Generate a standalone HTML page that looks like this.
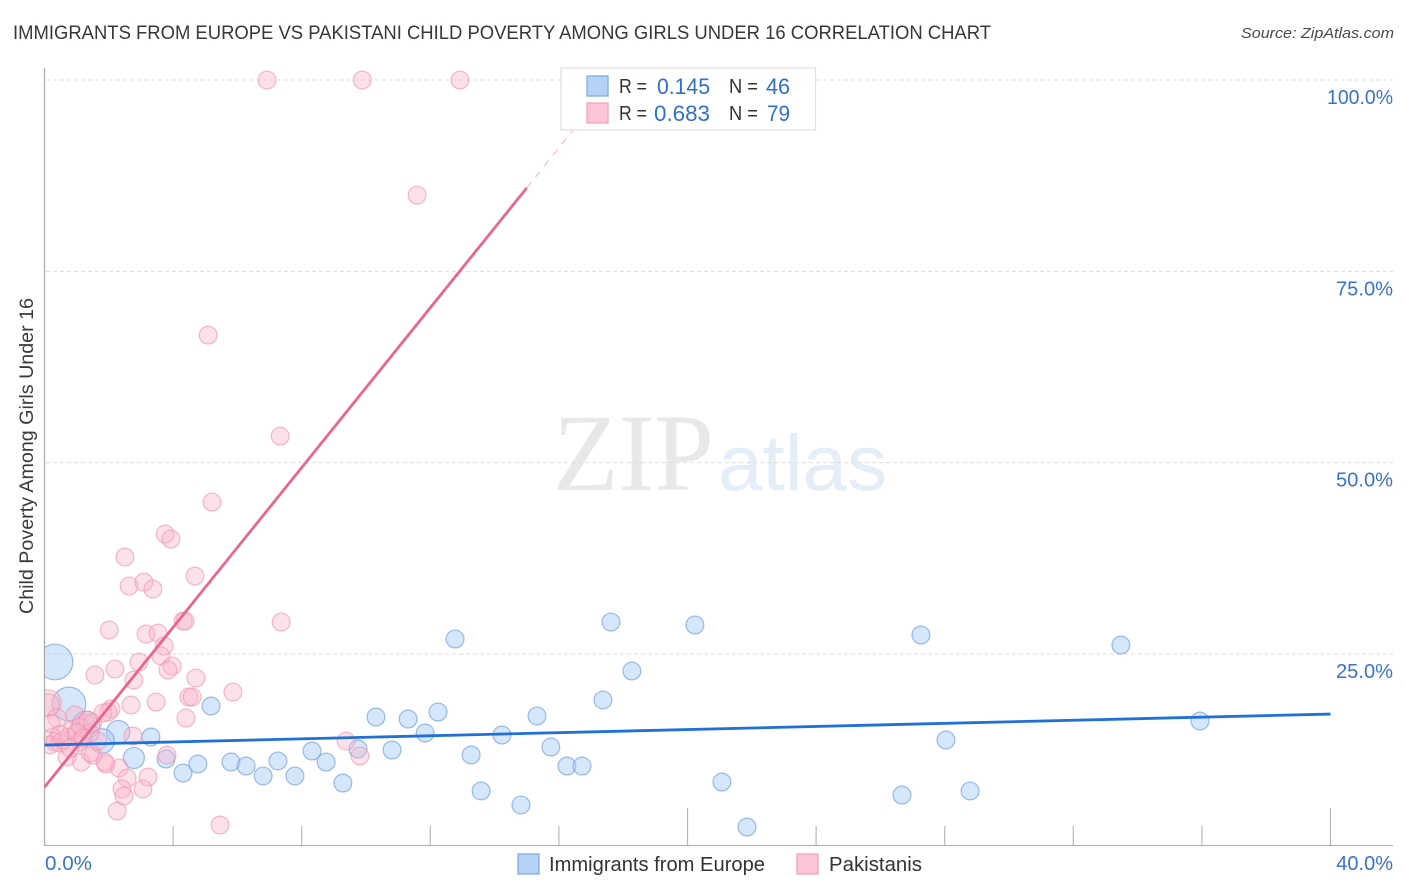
<!DOCTYPE html>
<html lang="en">
<head>
<meta charset="utf-8">
<title>Immigrants from Europe vs Pakistani Child Poverty Correlation Chart</title>
<style>
html,body{margin:0;padding:0;background:#fff;}
svg{display:block;font-family:"Liberation Sans",sans-serif;}
</style>
</head>
<body>
<svg id="chart" xmlns="http://www.w3.org/2000/svg" width="1406" height="892" viewBox="0 0 1406 892">
  <defs>
    <clipPath id="plot-clip"><rect x="45" y="60" width="1350" height="786"/></clipPath>
  </defs>
  <rect x="0" y="0" width="1406" height="892" fill="#ffffff"/>
  <text x="13" y="39" font-size="19.5" fill="#34383c" textLength="978" lengthAdjust="spacingAndGlyphs">IMMIGRANTS FROM EUROPE VS PAKISTANI CHILD POVERTY AMONG GIRLS UNDER 16 CORRELATION CHART</text>
  <text x="1394" y="38" font-size="15" font-style="italic" fill="#4a4a4a" text-anchor="end" textLength="153" lengthAdjust="spacingAndGlyphs">Source: ZipAtlas.com</text>
  <text x="553" y="490" font-size="110" font-family="'Liberation Serif',serif" fill="#e8e8e8" textLength="161" lengthAdjust="spacingAndGlyphs">ZIP</text>
  <text x="718" y="490" font-size="79" fill="#e5edf8" textLength="169" lengthAdjust="spacingAndGlyphs">atlas</text>
  <g id="grid"></g>
  <g id="axes"></g>
  <g id="europe-points" clip-path="url(#plot-clip)"></g>
  <g id="pakistani-points" clip-path="url(#plot-clip)"></g>
  <g id="trends"></g>
  <g id="ticklabels"></g>
  <text transform="translate(33,614) rotate(-90)" x="0" y="0" font-size="19" fill="#3a3a3a" textLength="316" lengthAdjust="spacingAndGlyphs">Child Poverty Among Girls Under 16</text>

  <g>
    <rect x="561" y="68" width="254.5" height="62" fill="#ffffff" fill-opacity="0.93" stroke="#dfdfdf" stroke-width="1.2"/>
    <rect x="587" y="76" width="21" height="20" fill="#b5d2f6" stroke="#83ace0" stroke-width="1.3"/>
    <rect x="587" y="103" width="21" height="20" fill="#fcc5d6" stroke="#f2a3bb" stroke-width="1.3"/>
    <text x="619" y="93" font-size="20" fill="#333333" textLength="28" lengthAdjust="spacingAndGlyphs">R =</text>
    <text x="657" y="94" font-size="22" fill="#2f6fd0" textLength="53" lengthAdjust="spacingAndGlyphs">0.145</text>
    <text x="729" y="93" font-size="20" fill="#333333" textLength="29" lengthAdjust="spacingAndGlyphs">N =</text>
    <text x="766" y="94" font-size="22" fill="#2f6fd0" textLength="24" lengthAdjust="spacingAndGlyphs">46</text>
    <text x="619" y="120" font-size="20" fill="#333333" textLength="28" lengthAdjust="spacingAndGlyphs">R =</text>
    <text x="654" y="121" font-size="22" fill="#2f6fd0" textLength="56" lengthAdjust="spacingAndGlyphs">0.683</text>
    <text x="729" y="120" font-size="20" fill="#333333" textLength="29" lengthAdjust="spacingAndGlyphs">N =</text>
    <text x="767" y="121" font-size="22" fill="#2f6fd0" textLength="23" lengthAdjust="spacingAndGlyphs">79</text>
  </g>

  <g>
    <rect x="518" y="854" width="21" height="20" fill="#b5d2f6" stroke="#83ace0" stroke-width="1.3"/>
    <text x="549" y="871" font-size="20" fill="#333333" textLength="216" lengthAdjust="spacingAndGlyphs">Immigrants from Europe</text>
    <rect x="797" y="854" width="21" height="20" fill="#fcc5d6" stroke="#f2a3bb" stroke-width="1.3"/>
    <text x="829" y="871" font-size="20" fill="#333333" textLength="93" lengthAdjust="spacingAndGlyphs">Pakistanis</text>
  </g>
</svg>

<script>
const yTicks = [25, 50, 75, 100];
const yTickLabels = ["25.0%", "50.0%", "75.0%", "100.0%"];
const xTicks = [4, 8, 12, 16, 20, 24, 28, 32, 36, 40];
const xMajorTicks = [20, 40];
const xEndLabels = ["0.0%", "40.0%"];

const europeX = [0.33,0.76,1.29,2.29,1.79,3.31,2.78,5.18,3.78,4.31,4.77,5.80,6.27,6.80,7.26,7.79,8.32,8.76,9.28,9.75,10.81,10.31,11.31,11.84,12.24,13.27,13.58,14.23,14.82,15.32,15.75,16.25,16.72,17.37,18.27,17.62,12.77,20.23,21.07,21.85,26.67,27.26,28.04,28.79,33.48,35.94];
const europeY = [23.95,18.46,15.72,14.80,13.63,14.15,11.41,18.20,11.28,9.45,10.62,10.88,10.36,9.06,11.02,9.06,12.32,10.88,8.14,12.58,12.45,16.76,16.50,14.67,17.42,11.80,7.10,14.41,5.27,16.90,12.84,10.36,10.36,18.99,22.77,29.18,26.96,28.79,8.27,2.39,6.57,27.48,13.76,7.10,26.17,16.24];
const europeWeight = [4,3.6,2.4,1.7,1.9,1,1.4,1,1,1,1,1,1,1,1,1,1,1,1,1,1,1,1,1,1,1,1,1,1,1,1,1,1,1,1,1,1,1,1,1,1,1,1,1,1,1];

const pakistaniX = [6.92,9.88,12.92,11.59,5.09,7.33,5.21,3.75,3.93,2.50,2.63,3.09,3.37,4.68,4.31,4.37,7.36,2.01,3.16,3.53,3.72,3.62,2.94,3.97,3.84,2.19,1.57,2.78,4.71,5.86,4.49,4.59,3.47,2.69,4.40,0.11,0.11,0.39,2.07,1.98,2.75,1.82,9.81,9.38,3.81,2.32,2.57,3.22,3.06,2.41,2.47,2.26,5.46,1.91,1.88,1.14,0.70,1.51,1.42,0.26,0.33,0.48,0.58,0.86,0.95,1.26,1.10,1.35,1.66,0.73,0.17,1.10,1.42,0.20,0.48,1.00,1.50,0.80,1.20];
const pakistaniY = [100,100,100,84.96,66.66,53.46,44.85,40.67,40.02,37.67,33.88,34.40,33.49,35.19,29.31,29.31,29.18,28.13,27.61,27.74,26.04,24.74,23.95,23.43,22.91,23.04,22.25,21.60,21.86,20.03,19.38,19.38,18.72,18.33,16.63,18.59,18.33,16.63,17.81,17.42,14.28,17.29,11.67,13.63,11.80,10.10,8.79,8.92,7.36,7.36,6.44,4.48,2.65,10.62,10.88,10.88,11.54,11.80,12.06,14.15,13.50,13.37,13.76,15.07,17.03,15.98,15.46,16.37,13.63,14.15,13.11,13.50,14.67,15.90,14.50,14.70,16.00,12.70,14.00];
const pakistaniWeight = [1,1,1,1,1,1,1,1,1,1,1,1,1,1,1,1,1,1,1,1,1,1,1,1,1,1,1,1,1,1,1,1,1,1,1,2.2,1.6,1.1,1,1,1,1,1,1,1,1,1,1,1,1,1,1,1,1,1,1,1,1,1,1,1,1,1,1,1,1,1,1,1,1,1,1,1,1,1,1,1,1,1];

const europeTrendX = [0, 40];
const europeTrendY = [13.1, 17.15];
const pakistaniTrendX = [0, 15];
const pakistaniTrendY = [7.6, 85.9];
const pakistaniDashX = [15, 17.5];
const pakistaniDashY = [85.9, 99];

const NS = "http://www.w3.org/2000/svg";
const xScale = function (v) { return 44.5 + v * 32.15; };
const yScale = function (v) { return 845.3 - v * 7.653; };

function make(tag, attrs, parent) {
  const el = document.createElementNS(NS, tag);
  Object.keys(attrs).forEach(function (k) { el.setAttribute(k, attrs[k]); });
  parent.appendChild(el);
  return el;
}

const grid = document.getElementById("grid");
const axes = document.getElementById("axes");
const labels = document.getElementById("ticklabels");

yTicks.forEach(function (t, i) {
  const line = make("line", {x1: 46, x2: 1393, y1: yScale(t), y2: yScale(t), stroke: "#dddddd", "stroke-width": 1, "stroke-dasharray": "4 3"}, grid);
  
  
  const label = make("text", {x: 1393, y: yScale(t) + 24, "font-size": 20, fill: "#3a73cf", "text-anchor": "end", textLength: yTickLabels[i].length > 5 ? 66 : 57, lengthAdjust: "spacingAndGlyphs"}, labels);
  
  
  label.textContent = yTickLabels[i];
});

const yAxis = make("line", {x1: 44.5, x2: 44.5, y1: 68, y2: 845.5, stroke: "#adadad", "stroke-width": 1.3}, axes);


const xAxis = make("line", {x1: 44, x2: 1393, y1: 845.5, y2: 845.5, stroke: "#b5b5b5", "stroke-width": 1.3}, axes);



xTicks.forEach(function (t) {
  const major = xMajorTicks.indexOf(t) >= 0;
  const tick = make("line", {x1: xScale(t), x2: xScale(t), y1: major ? 808 : 826, y2: 845, stroke: "#b8b8b8", "stroke-width": 1.2}, axes);
  
  
});

const xStart = make("text", {x: 45, y: 870, "font-size": 20, fill: "#3a73cf", textLength: 47, lengthAdjust: "spacingAndGlyphs"}, labels);


xStart.textContent = xEndLabels[0];
const xEnd = make("text", {x: 1393, y: 870, "font-size": 20, fill: "#3a73cf", "text-anchor": "end"}, labels);


xEnd.textContent = xEndLabels[1];

const europeGroup = document.getElementById("europe-points");
europeX.forEach(function (v, i) {
  const c = make("circle", {cx: xScale(v), cy: yScale(europeY[i]), r: 8.9 * Math.sqrt(europeWeight[i]), fill: "#a9cdf7", "fill-opacity": 0.48, stroke: "#6f9fe0", "stroke-opacity": 0.7, "stroke-width": 1.2}, europeGroup);
  
  
});

const pakistaniGroup = document.getElementById("pakistani-points");
pakistaniX.forEach(function (v, i) {
  const c = make("circle", {cx: xScale(v), cy: yScale(pakistaniY[i]), r: 8.9 * Math.sqrt(pakistaniWeight[i]), fill: "#f9b4ca", "fill-opacity": 0.4, stroke: "#f095b0", "stroke-opacity": 0.65, "stroke-width": 1.2}, pakistaniGroup);
  
  
});

const trends = document.getElementById("trends");
const pakDash = make("line", {x1: xScale(pakistaniDashX[0]), y1: yScale(pakistaniDashY[0]), x2: xScale(pakistaniDashX[1]), y2: yScale(pakistaniDashY[1]), stroke: "#ec7c9f", "stroke-width": 1, "stroke-dasharray": "7 7", "stroke-opacity": 0.6}, trends);


const pakLine = make("line", {x1: xScale(pakistaniTrendX[0]), y1: yScale(pakistaniTrendY[0]), x2: xScale(pakistaniTrendX[1]), y2: yScale(pakistaniTrendY[1]), stroke: "#e8668f", "stroke-width": 2.8}, trends);


const euLine = make("line", {x1: xScale(europeTrendX[0]), y1: yScale(europeTrendY[0]), x2: xScale(europeTrendX[1]), y2: yScale(europeTrendY[1]), stroke: "#2170d8", "stroke-width": 2.8}, trends);


</script>
</body>
</html>
